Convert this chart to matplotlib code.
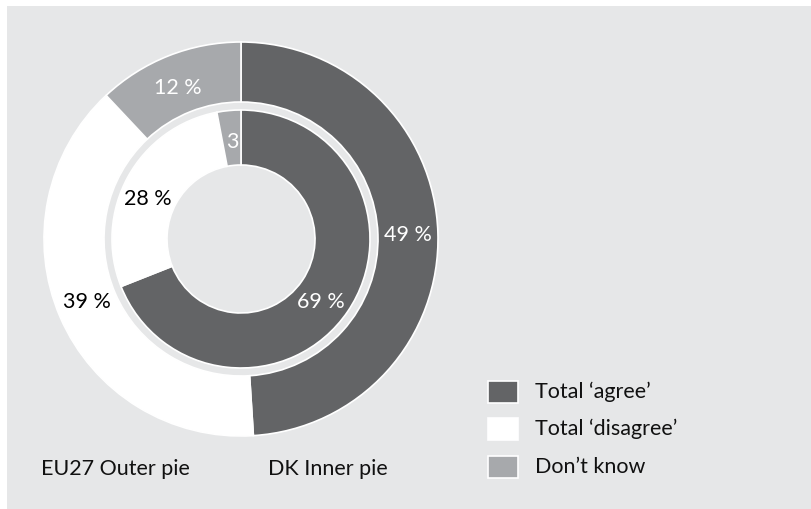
import matplotlib.pyplot as plt
from matplotlib.patches import Rectangle

plt.rcParams['font.family'] = ['Lato', 'DejaVu Sans']

categories = ["Total \u2018agree\u2019", "Total \u2018disagree\u2019", "Don\u2019t know"]
eu27 = [49, 39, 12]   # outer ring
dk = [69, 28, 3]      # inner ring
eu27_labels = ["49 %", "39 %", "12 %"]
dk_labels = ["69 %", "28 %", "3"]

colors = ['#636466', '#ffffff', '#a7a9ac']
text_colors = ['white', 'black', 'white']
bg = '#e6e7e8'

W, H = 811, 509
fig = plt.figure(figsize=(W / 100, H / 100), dpi=100)

# grey panel with a thin white margin top/left, drawn behind the axes
fig.patches.append(Rectangle((7 / W, 0), 1, 1 - 6 / H, transform=fig.transFigure,
                             facecolor=bg, edgecolor='none', zorder=-10))

ax = fig.add_axes([0, 0, 1, 1], zorder=1)
ax.patch.set_visible(False)

cx, cy = 241, H - 239
wp = dict(edgecolor='white', linewidth=1.2)

ax.pie(eu27, radius=197, center=(cx, cy), startangle=90, counterclock=False,
       colors=colors, wedgeprops=dict(width=60, **wp), frame=True)
ax.pie(dk, radius=129, center=(cx, cy), startangle=90, counterclock=False,
       colors=colors, wedgeprops=dict(width=55, **wp), frame=True)

# axes in pixel units, filling the figure
ax.set_aspect('auto')
ax.set_xlim(0, W)
ax.set_ylim(0, H)
ax.set_position([0, 0, 1, 1])
ax.axis('off')

# value labels
eu27_pos = [(408, 235), (87, 302), (178, 88)]
dk_pos = [(321, 302), (148, 199), (232, 142)]
for lab, (x, y), c in zip(eu27_labels, eu27_pos, text_colors):
    ax.text(x, H - y, lab, color=c, fontsize=15.5, ha='center', va='center')
for lab, (x, y), c in zip(dk_labels, dk_pos, text_colors):
    ax.text(x, H - y, lab, color=c, fontsize=15.5, ha='center', va='center')

# captions under the rings
ax.text(41, H - 469, "EU27 Outer pie", fontsize=15.5, ha='left', va='center', color='#111111')
ax.text(268, H - 469, "DK Inner pie", fontsize=15.5, ha='left', va='center', color='#111111')

# legend
for i, (name, c) in enumerate(zip(categories, colors)):
    ytop = [381, 418, 456][i]
    ax.add_patch(Rectangle((488, H - ytop - 22), 30, 22, facecolor=c,
                           edgecolor='white', linewidth=1.2))
    ax.text(535, H - ytop - 11, name, fontsize=15.5, ha='left', va='center', color='#111111')

fig.savefig('out.png', dpi=100, facecolor='white')
